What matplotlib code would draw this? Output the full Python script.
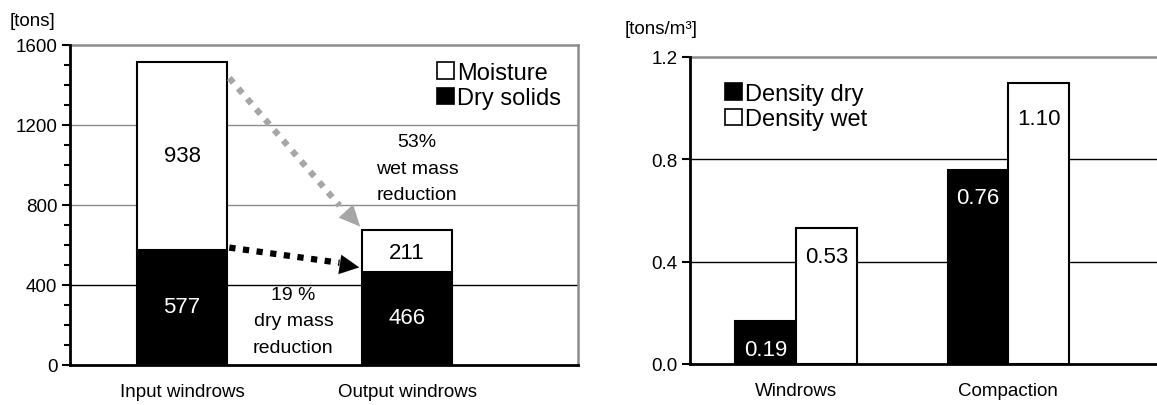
import matplotlib
matplotlib.use("Agg")
import matplotlib.pyplot as plt
from matplotlib.ticker import MultipleLocator
from matplotlib.patches import Rectangle

plt.rcParams['font.family'] = ['Liberation Sans', 'DejaVu Sans']

# left chart data
stages = ['Input windrows', 'Output windrows']
dry_solids = [577, 466]
moisture = [938, 211]

# right chart data
dens_cats = ['Windrows', 'Compaction']
dens_dry = [0.17, 0.76]
dens_wet = [0.53, 1.10]
dens_dry_lbl = ['0.19', '0.76']
dens_wet_lbl = ['0.53', '1.10']

GRAY = '#8c8c8c'

fig = plt.figure(figsize=(11.57, 4.06), dpi=100)

# ---------------- left: stacked mass ----------------
ax = fig.add_axes([70 / 1157, 1 - 366 / 406, 508 / 1157, 320 / 406])
x = [0, 1]
w = 0.4
ax.bar(x, dry_solids, w, color='black', edgecolor='black', lw=1.5, zorder=3)
ax.bar(x, moisture, w, bottom=dry_solids, color='white', edgecolor='black', lw=1.5, zorder=3)
ax.set_xlim(-0.498, 1.76)
ax.set_ylim(0, 1600)
ax.yaxis.set_major_locator(MultipleLocator(400))
ax.yaxis.set_minor_locator(MultipleLocator(100))
ax.tick_params(axis='y', which='major', direction='out', length=6, width=1.5, labelsize=13.5, pad=3)
ax.tick_params(axis='y', which='minor', direction='out', length=4, width=1.5)
ax.tick_params(axis='x', length=0, labelsize=13.5, pad=13)
ax.set_xticks(x)
ax.set_xticklabels(stages)
for s in ['left', 'bottom']:
    ax.spines[s].set_linewidth(2)
    ax.spines[s].set_zorder(5)
for s in ['top', 'right']:
    ax.spines[s].set_color(GRAY)
    ax.spines[s].set_linewidth(1.8)
for yv, c in [(400, 'black'), (800, GRAY), (1200, GRAY)]:
    ax.axhline(yv, color=c, lw=1, zorder=1)

for i in x:
    ax.text(i, dry_solids[i] * 0.51, str(dry_solids[i]), color='white', ha='center', va='center',
            fontsize=16, zorder=6)
    ax.text(i, dry_solids[i] + moisture[i] * (0.50 if i == 0 else 0.46), str(moisture[i]),
            ha='center', va='center', fontsize=16, zorder=6)

ax.text(1.044, 985, '53%\nwet mass\nreduction', ha='center', va='center', fontsize=14,
        linespacing=1.7, zorder=6)
ax.text(0.495, 220, '19 %\ndry mass\nreduction', ha='center', va='center', fontsize=14,
        linespacing=1.7, zorder=6)

# arrows
tot0 = dry_solids[0] + moisture[0]
tot1 = dry_solids[1] + moisture[1]
ax.plot([w / 2 + 0.01, 1 - w / 2 - 0.1], [tot0 - 80, tot1 + 120], color='#a6a6a6', lw=4.5,
        ls=(0, (1, 1.2)), zorder=4)
ax.annotate('', xy=(1 - w / 2, tot1 + 5), xytext=(1 - w / 2 - 0.11, tot1 + 140),
            arrowprops=dict(arrowstyle='-|>,head_length=1.5,head_width=0.7', color='#a6a6a6',
                            lw=0.1), zorder=4)
ax.plot([w / 2 + 0.01, 1 - w / 2 - 0.1], [dry_solids[0] + 10, dry_solids[1] + 45], color='black',
        lw=4.5, ls=(0, (1, 1.2)), zorder=4)
ax.annotate('', xy=(1 - w / 2, dry_solids[1] + 20), xytext=(1 - w / 2 - 0.13, dry_solids[1] + 42),
            arrowprops=dict(arrowstyle='-|>,head_length=1.4,head_width=0.7', color='black',
                            lw=0.1), zorder=4)

# legend
h1 = Rectangle((0, 0), 1, 1, fc='white', ec='black', lw=1.2)
h2 = Rectangle((0, 0), 1, 1, fc='black', ec='black', lw=1.2)
ax.legend([h1, h2], ['Moisture', 'Dry solids'], loc='upper right', bbox_to_anchor=(1.0, 1.0),
          frameon=False, fontsize=17, handlelength=0.7, handleheight=0.7, handletextpad=0.15,
          labelspacing=0.15, borderaxespad=0.3)

fig.text(10 / 1157, 1 - 21 / 406, '[tons]', fontsize=13.5, ha='left', va='center')

# ---------------- right: densities ----------------
ax2 = fig.add_axes([690 / 1157, 1 - 365 / 406, 467 / 1157, 307 / 406])
bw = 0.286
xd = [i - bw / 2 for i in range(len(dens_cats))]
xw = [i + bw / 2 for i in range(len(dens_cats))]
ax2.bar(xd, dens_dry, bw, color='black', edgecolor='black', lw=1.5, zorder=3)
ax2.bar(xw, dens_wet, bw, color='white', edgecolor='black', lw=1.5, zorder=3)
ax2.set_xlim(-0.5, 1.70)
ax2.set_ylim(0, 1.2)
ax2.set_yticks([0.0, 0.4, 0.8, 1.2])
ax2.set_yticklabels(['0.0', '0.4', '0.8', '1.2'])
ax2.tick_params(axis='y', direction='out', length=6, width=1.5, labelsize=13.5, pad=3)
ax2.tick_params(axis='x', length=0, labelsize=13.5, pad=13)
ax2.set_xticks(range(len(dens_cats)))
ax2.set_xticklabels(dens_cats)
for s in ['left', 'bottom']:
    ax2.spines[s].set_linewidth(2)
    ax2.spines[s].set_zorder(5)
ax2.spines['right'].set_visible(False)
ax2.spines['top'].set_color(GRAY)
ax2.spines['top'].set_linewidth(1.8)
for yv in [0.4, 0.8]:
    ax2.axhline(yv, color='black', lw=1, zorder=1)

ax2.text(xd[0], 0.058, dens_dry_lbl[0], color='white', ha='center', va='center', fontsize=16,
         zorder=6, bbox=dict(fc='black', ec='none', pad=1.5))
ax2.text(xd[1], dens_dry[1] - 0.11, dens_dry_lbl[1], color='white', ha='center', va='center',
         fontsize=16, zorder=6)
ax2.text(xw[0], dens_wet[0] - 0.11, dens_wet_lbl[0], ha='center', va='center', fontsize=16,
         zorder=6)
ax2.text(xw[1], dens_wet[1] - 0.14, dens_wet_lbl[1], ha='center', va='center', fontsize=16,
         zorder=6)

ax2.legend([h2, h1], ['Density dry', 'Density wet'], loc='upper left', bbox_to_anchor=(0.03, 0.985),
           frameon=False, fontsize=17, handlelength=0.7, handleheight=0.7, handletextpad=0.15,
           labelspacing=0.15)

fig.text(625 / 1157, 1 - 30 / 406, '[tons/m³]', fontsize=13.5, ha='left', va='center')

fig.savefig('out.png', dpi=100)
